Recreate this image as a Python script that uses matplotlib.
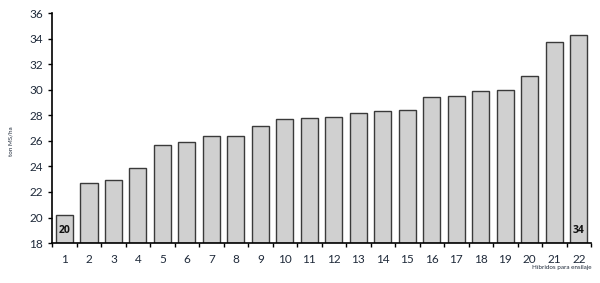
import matplotlib.pyplot as plt

# Rendimiento de materia seca por híbrido
hibridos = [str(i) for i in range(1, 23)]
rendimiento = [20.2, 22.7, 22.9, 23.9, 25.7, 25.9, 26.4, 26.4, 27.15, 27.7, 27.75,
               27.9, 28.15, 28.35, 28.45, 29.45, 29.5, 29.9, 30.0, 31.1, 33.7, 34.3]
etiquetas = {0: "20", 21: "34"}

plt.rcParams['font.family'] = ['Lato', 'DejaVu Sans']
txt = "#1f2a3a"

fig = plt.figure(figsize=(6, 2.83), dpi=100)
ax = fig.add_axes([0.087, 0.141, 0.898, 0.813])

x = range(len(hibridos))
ax.bar(x, [v - 18 for v in rendimiento], bottom=18, width=0.7,
       color="#d0d0d0", edgecolor="#3a3a3a", linewidth=1.0)

for i, t in etiquetas.items():
    ax.text(i, 19.0, t, ha="center", va="center", fontsize=7.5,
            fontweight="bold", family=["Open Sans", "DejaVu Sans"], color="#111111")

ax.set_ylim(18, 36)
ax.set_xlim(-0.5, len(hibridos) - 0.5)
ax.set_yticks(range(18, 37, 2))
ax.set_xticks(list(x))
ax.set_xticklabels(hibridos)
ax.set_xticks([i - 0.5 for i in range(len(hibridos) + 1)], minor=True)
ax.tick_params(axis="x", which="major", length=0, pad=8, labelsize=8.5, labelcolor=txt)
ax.tick_params(axis="x", which="minor", length=3, width=1, direction="out")
ax.tick_params(axis="y", length=3, width=1, labelsize=8.5, labelcolor=txt)

for s in ["top", "right"]:
    ax.spines[s].set_visible(False)
ax.spines["left"].set_linewidth(1.2)
ax.spines["bottom"].set_linewidth(1.2)

fig.text(0.018, 0.50, "ton MS/ha", rotation=90, fontsize=4.5, color=txt,
         ha="center", va="center")
fig.text(0.985, 0.055, "Híbridos para ensilaje", fontsize=4.5, color=txt,
         ha="right", va="center")

plt.savefig("out.png", dpi=100)
